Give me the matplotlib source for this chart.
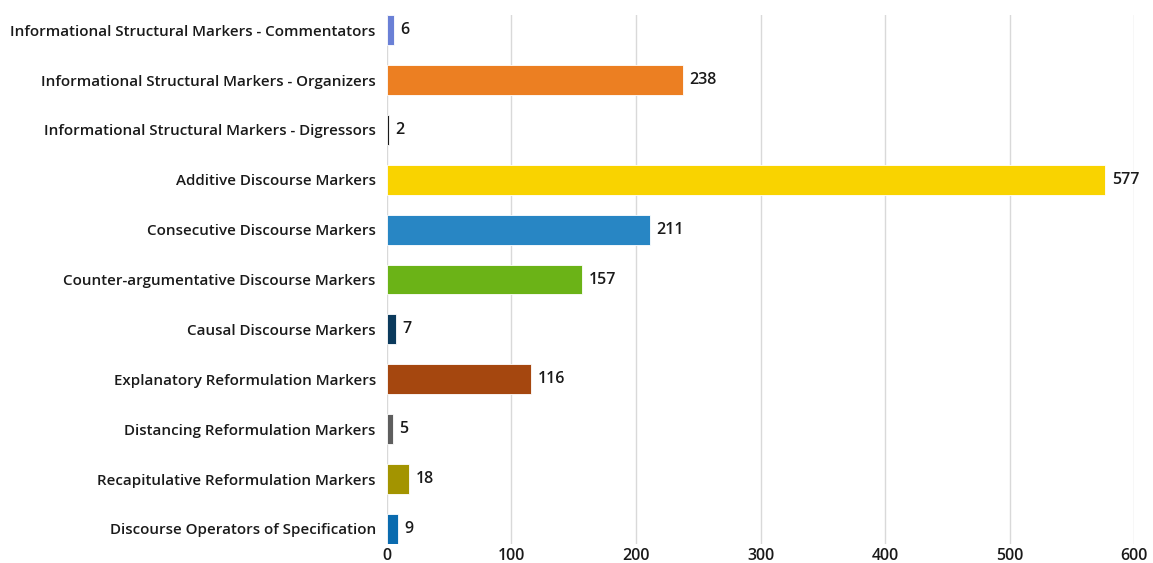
import matplotlib.pyplot as plt

# data, top to bottom as shown
categories = [
    "Informational Structural Markers - Commentators",
    "Informational Structural Markers - Organizers",
    "Informational Structural Markers - Digressors",
    "Additive Discourse Markers",
    "Consecutive Discourse Markers",
    "Counter-argumentative Discourse Markers",
    "Causal Discourse Markers",
    "Explanatory Reformulation Markers",
    "Distancing Reformulation Markers",
    "Recapitulative Reformulation Markers",
    "Discourse Operators of Specification",
]
counts = [6, 238, 2, 577, 211, 157, 7, 116, 5, 18, 9]
colors = ["#6a80d6", "#ec7f22", "#1a1a1a", "#f9d300", "#2886c4", "#6bb317",
          "#0b3a5c", "#a5470f", "#5e5e5e", "#a39400", "#0a6baf"]
xticks = [0, 100, 200, 300, 400, 500, 600]

plt.rcParams['font.family'] = ['Open Sans', 'DejaVu Sans']

fig = plt.figure(figsize=(11.53, 5.63), dpi=100)
ax = fig.add_axes([0.3356, 0.034, 0.648, 0.939])

n = len(categories)
ypos = list(range(n - 1, -1, -1))
ax.barh(ypos, counts, height=0.6, color=colors, edgecolor="white", linewidth=0.6, zorder=3)

for y, v in zip(ypos, counts):
    ax.text(v + 5, y, str(v), va='center', ha='left', fontsize=11.5,
            color="#1a1a1a", weight='semibold')

ax.set_yticks(ypos)
ax.set_yticklabels(categories, fontsize=10.9, color="#1a1a1a", weight='semibold')
ax.set_xticks(xticks)
ax.set_xticklabels([str(t) for t in xticks], fontsize=11.5, color="#1a1a1a", weight='semibold')
ax.set_xlim(0, 600)
ax.set_ylim(-0.3, n - 0.7)
ax.tick_params(axis='both', length=0)
ax.tick_params(axis='y', pad=8)
ax.tick_params(axis='x', pad=3)
ax.grid(axis='x', color="#d9d9d9", linewidth=1, zorder=0)
for s in ax.spines.values():
    s.set_visible(False)

fig.savefig("out.png", dpi=100)
